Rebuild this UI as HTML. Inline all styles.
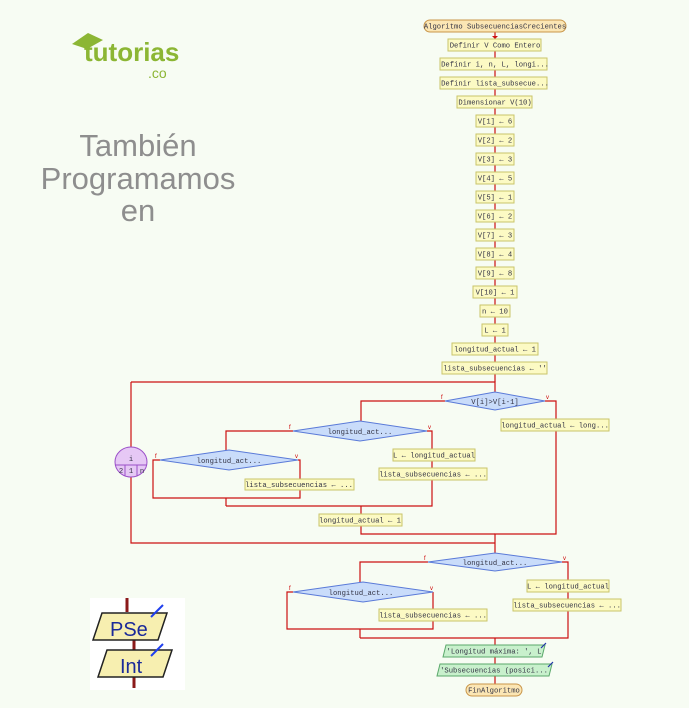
<!DOCTYPE html>
<html><head><meta charset="utf-8"><style>
html,body{margin:0;padding:0;background:#f7fcf3;}
svg{display:block}
.t{font-family:"Liberation Mono",monospace;font-size:7.2px;fill:#334;}
.b{fill:#fcfac4;stroke:#c9c46a;stroke-width:1}
.d{fill:#c9dcfa;stroke:#5a7ad8;stroke-width:1}
.l{stroke:#cc1111;stroke-width:1.2;fill:none}
.o{fill:#c8f0cc;stroke:#5aa86a;stroke-width:1}
.r{fill:#fbe6b4;stroke:#c9964a;stroke-width:1}
.f{font-family:"Liberation Sans",sans-serif;font-size:6px;fill:#c00}
</style></head><body>
<svg width="689" height="708" viewBox="0 0 689 708" xmlns="http://www.w3.org/2000/svg">
<rect width="689" height="708" fill="#f7fcf3"/>
<!-- logo -->
<text x="84" y="61" font-family="Liberation Sans,sans-serif" font-weight="bold" font-size="26" fill="#8cb634">tutorias</text>
<path d="M72 44 L88 33 L103 40 L87 49 Z" fill="#8cb634"/>
<text x="148" y="78" font-family="Liberation Sans,sans-serif" font-size="14" fill="#8cb634">.co</text>
<g font-family="Liberation Sans,sans-serif" font-size="31" fill="#8e8e8e" text-anchor="middle">
<text x="138" y="156">También</text><text x="138" y="189">Programamos</text><text x="138" y="221">en</text></g>
<!-- PSeInt logo -->
<rect x="90" y="598" width="95" height="92" fill="#fff"/>
<path d="M127 598 V612 M134 640 V652 M134 676 V688" stroke="#8b1a1a" stroke-width="3"/>
<path d="M102 613 L167 613 L158 640 L93 640 Z" fill="#f7efb0" stroke="#222" stroke-width="1.5"/>
<path d="M107 650 L172 650 L163 677 L98 677 Z" fill="#f7efb0" stroke="#222" stroke-width="1.5"/>
<text x="110" y="636" font-family="Liberation Sans,sans-serif" font-size="20" fill="#1a2a99">PSe</text>
<text x="120" y="673" font-family="Liberation Sans,sans-serif" font-size="20" fill="#1a2a99">Int</text>
<path d="M163 605 L151 617 M163 644 L151 656" stroke="#2040ee" stroke-width="2"/>
<!-- main column connectors -->
<path class="l" d="M495 32 V382"/>
<path class="l" d="M131 382 H495 V392"/>
<path class="l" d="M131 382 V447 M131 477 V543 H495"/>
<path class="l" d="M445 401 H361 V421"/>
<path class="l" d="M545 401 H556 V534 H495 V553"/>
<path class="l" d="M293 431 H226 V450"/>
<path class="l" d="M427 431 H432 V506 H226"/>
<path class="l" d="M160 460 H153 V498 H300 V460 H298"/>
<path class="l" d="M226 498 V506 M361 506 V534 H495"/>
<path class="l" d="M428 562 H360 V582"/>
<path class="l" d="M562 562 H568 V638 H360"/>
<path class="l" d="M293 592 H287 V629 H433 V592"/>
<path class="l" d="M360 629 V638 M495 638 V690"/>
<g fill="#cc1111">
<path d="M492 36 L498 36 L495 39Z"/>
</g>
<!-- top nodes -->
<rect class="r" x="424" y="20" width="142" height="12" rx="6"/><text class="t" x="495" y="28.5" text-anchor="middle">Algoritmo SubsecuenciasCrecientes</text>
<rect class="b" x="448" y="39" width="93" height="12"/><text class="t" x="495" y="47.5" text-anchor="middle">Definir V Como Entero</text>
<rect class="b" x="440" y="58" width="107" height="12"/><text class="t" x="495" y="66.5" text-anchor="middle">Definir i, n, L, longi...</text>
<rect class="b" x="440" y="77" width="107" height="12"/><text class="t" x="495" y="85.5" text-anchor="middle">Definir lista_subsecue...</text>
<rect class="b" x="457" y="96" width="75" height="12"/><text class="t" x="495" y="104.5" text-anchor="middle">Dimensionar V(10)</text>
<rect class="b" x="476" y="115" width="38" height="12"/><text class="t" x="495" y="123.5" text-anchor="middle">V[1] ← 6</text>
<rect class="b" x="476" y="134" width="38" height="12"/><text class="t" x="495" y="142.5" text-anchor="middle">V[2] ← 2</text>
<rect class="b" x="476" y="153" width="38" height="12"/><text class="t" x="495" y="161.5" text-anchor="middle">V[3] ← 3</text>
<rect class="b" x="476" y="172" width="38" height="12"/><text class="t" x="495" y="180.5" text-anchor="middle">V[4] ← 5</text>
<rect class="b" x="476" y="191" width="38" height="12"/><text class="t" x="495" y="199.5" text-anchor="middle">V[5] ← 1</text>
<rect class="b" x="476" y="210" width="38" height="12"/><text class="t" x="495" y="218.5" text-anchor="middle">V[6] ← 2</text>
<rect class="b" x="476" y="229" width="38" height="12"/><text class="t" x="495" y="237.5" text-anchor="middle">V[7] ← 3</text>
<rect class="b" x="476" y="248" width="38" height="12"/><text class="t" x="495" y="256.5" text-anchor="middle">V[8] ← 4</text>
<rect class="b" x="476" y="267" width="38" height="12"/><text class="t" x="495" y="275.5" text-anchor="middle">V[9] ← 8</text>
<rect class="b" x="473" y="286" width="44" height="12"/><text class="t" x="495" y="294.5" text-anchor="middle">V[10] ← 1</text>
<rect class="b" x="480" y="305" width="30" height="12"/><text class="t" x="495" y="313.5" text-anchor="middle">n ← 10</text>
<rect class="b" x="482" y="324" width="26" height="12"/><text class="t" x="495" y="332.5" text-anchor="middle">L ← 1</text>
<rect class="b" x="452" y="343" width="86" height="12"/><text class="t" x="495" y="351.5" text-anchor="middle">longitud_actual ← 1</text>
<rect class="b" x="442" y="362" width="105" height="12"/><text class="t" x="495" y="370.5" text-anchor="middle">lista_subsecuencias ← ''</text>
<!-- loop ellipse -->
<ellipse cx="131" cy="462" rx="16" ry="15" fill="#e6c8f5" stroke="#9a4fc8"/>
<path d="M115 465 H147 M125 465 V476 M137 465 V476" stroke="#9a4fc8" stroke-width="1"/>
<text class="t" x="131" y="461" text-anchor="middle">i</text>
<text class="t" x="121" y="473" text-anchor="middle">2</text><text class="t" x="131" y="473" text-anchor="middle">1</text><text class="t" x="142" y="473" text-anchor="middle">n</text>
<!-- diamonds -->
<path class="d" d="M445 401 L495 392 L545 401 L495 410 Z"/><text class="t" x="495" y="404" text-anchor="middle">V[i]&gt;V[i-1]</text>
<path class="d" d="M293 431 L360 421 L427 431 L360 441 Z"/><text class="t" x="360" y="434" text-anchor="middle">longitud_act...</text>
<path class="d" d="M160 460 L229 450 L298 460 L229 470 Z"/><text class="t" x="229" y="463" text-anchor="middle">longitud_act...</text>
<path class="d" d="M428 562 L495 553 L562 562 L495 571 Z"/><text class="t" x="495" y="565" text-anchor="middle">longitud_act...</text>
<path class="d" d="M293 592 L363 582 L433 592 L363 602 Z"/><text class="t" x="361" y="595" text-anchor="middle">longitud_act...</text>
<text class="f" x="441" y="399">f</text><text class="f" x="546" y="399">v</text>
<text class="f" x="289" y="429">f</text><text class="f" x="428" y="429">v</text>
<text class="f" x="155" y="458">f</text><text class="f" x="295" y="458">v</text>
<text class="f" x="424" y="560">f</text><text class="f" x="563" y="560">v</text>
<text class="f" x="289" y="590">f</text><text class="f" x="430" y="590">v</text>
<!-- branch boxes -->
<rect class="b" x="501" y="419" width="108" height="12"/><text class="t" x="555" y="427.5" text-anchor="middle">longitud_actual ← long...</text>
<rect class="b" x="393" y="449" width="82" height="12"/><text class="t" x="434" y="457.5" text-anchor="middle">L ← longitud_actual</text>
<rect class="b" x="379" y="468" width="108" height="12"/><text class="t" x="433" y="476.5" text-anchor="middle">lista_subsecuencias ← ...</text>
<rect class="b" x="245" y="479" width="109" height="11"/><text class="t" x="299" y="487" text-anchor="middle">lista_subsecuencias ← ...</text>
<rect class="b" x="319" y="514" width="83" height="12"/><text class="t" x="360" y="522.5" text-anchor="middle">longitud_actual ← 1</text>
<rect class="b" x="527" y="580" width="82" height="12"/><text class="t" x="568" y="588.5" text-anchor="middle">L ← longitud_actual</text>
<rect class="b" x="513" y="599" width="108" height="12"/><text class="t" x="567" y="607.5" text-anchor="middle">lista_subsecuencias ← ...</text>
<rect class="b" x="379" y="609" width="108" height="12"/><text class="t" x="433" y="617.5" text-anchor="middle">lista_subsecuencias ← ...</text>
<!-- outputs -->
<path class="o" d="M446 645 L545 645 L542 657 L443 657 Z"/><text class="t" x="494" y="653.5" text-anchor="middle">'Longitud máxima: ', L</text>
<path class="o" d="M440 664 L552 664 L549 676 L437 676 Z"/><text class="t" x="494" y="672.5" text-anchor="middle">'Subsecuencias (posici...</text>
<path d="M541 648 L546 643 M548 667 L553 662" stroke="#2233aa" stroke-width="1.2"/>
<rect class="r" x="466" y="684" width="56" height="12" rx="6"/><text class="t" x="494" y="692.5" text-anchor="middle">FinAlgoritmo</text>
</svg>
</body></html>
